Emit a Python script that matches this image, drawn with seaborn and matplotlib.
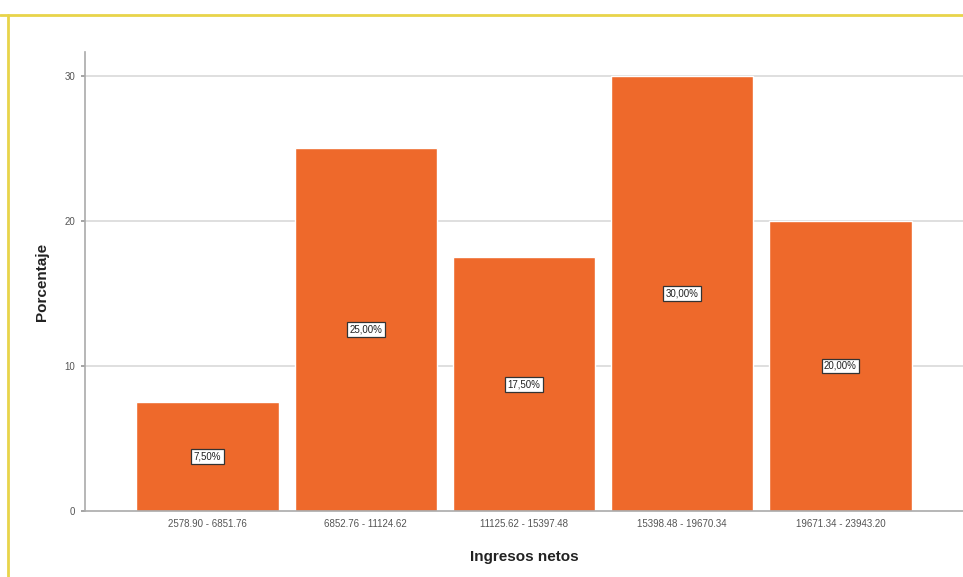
import matplotlib
matplotlib.use("Agg")
import matplotlib.pyplot as plt
import seaborn as sns
import pandas as pd
from matplotlib.lines import Line2D

categories = ["2578.90 - 6851.76", "6852.76 - 11124.62", "11125.62 - 15397.48",
              "15398.48 - 19670.34", "19671.34 - 23943.20"]
values = [7.5, 25.0, 17.5, 30.0, 20.0]
labels = ["7,50%", "25,00%", "17,50%", "30,00%", "20,00%"]
yticks = [0, 10, 20, 30]

df = pd.DataFrame({"cat": categories, "val": values})

sns.set_theme(style="white")
plt.rcParams["font.family"] = ["Liberation Sans", "DejaVu Sans"]

fig = plt.figure(figsize=(9.63, 5.77), dpi=100)
ax = fig.add_axes([0.0883, 0.1144, 0.9117, 0.7955])

sns.barplot(data=df, x="cat", y="val", color="#EE692B", saturation=1, width=0.9, ax=ax)

ax.set_ylim(0, 31.65)
ax.set_xlim(-0.775, 4.775)
ax.set_yticks(yticks)
ax.set_yticklabels([str(t) for t in yticks], fontsize=7, color="#555555")
ax.tick_params(axis="y", length=3, color="#999999", pad=4, left=True)
ax.tick_params(axis="x", length=0, labelsize=7, labelcolor="#555555", pad=6)
for t in yticks[1:]:
    ax.axhline(t, color="#d9d9d9", lw=1.2, zorder=0)
ax.set_axisbelow(True)
for s in ["top", "right"]:
    ax.spines[s].set_visible(False)
ax.spines["left"].set_color("#aaaaaa")
ax.spines["bottom"].set_color("#aaaaaa")
ax.spines["left"].set_linewidth(1.2)
ax.spines["bottom"].set_linewidth(1.2)

for i, (v, lab) in enumerate(zip(values, labels)):
    ax.text(i, v / 2, lab, ha="center", va="center", fontsize=7, color="#222222",
            bbox=dict(boxstyle="square,pad=0.25", fc="white", ec="#333333", lw=0.9))

ax.set_xlabel("Ingresos netos", fontsize=11, fontweight="bold", color="#222222", labelpad=15)
ax.set_ylabel("Porcentaje", fontsize=11, fontweight="bold", color="#222222", labelpad=11)

fig.add_artist(Line2D([0, 1], [1 - 15 / 577, 1 - 15 / 577], transform=fig.transFigure,
                      color="#E8D44A", lw=2))
fig.add_artist(Line2D([8 / 963, 8 / 963], [0, 1 - 15 / 577], transform=fig.transFigure,
                      color="#E8D44A", lw=2))

fig.savefig("out.png", dpi=100)
